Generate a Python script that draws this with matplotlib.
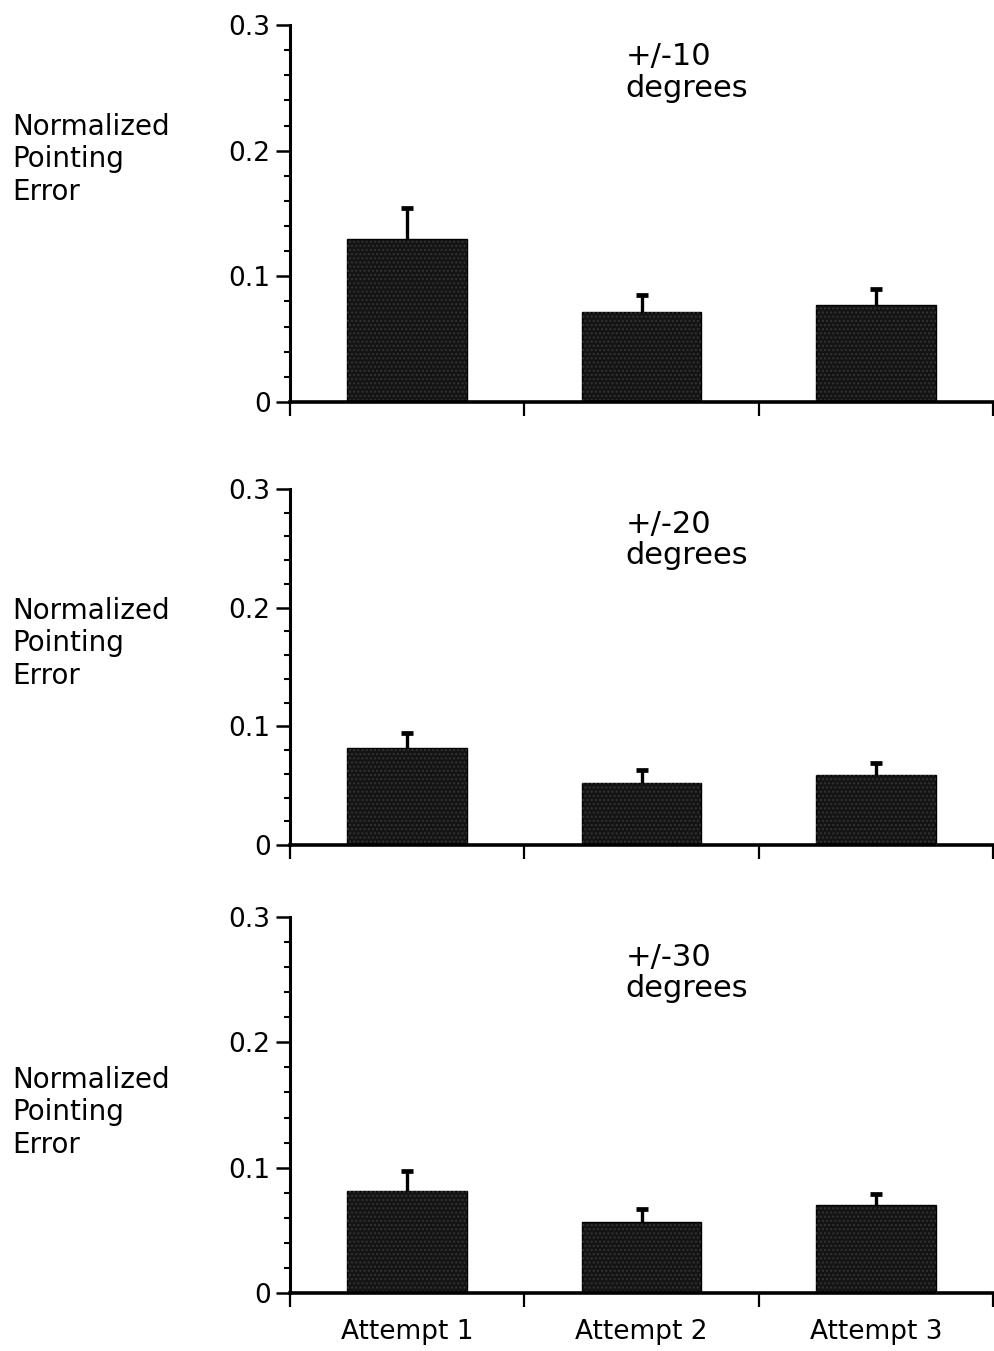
import matplotlib
matplotlib.use("Agg")
import matplotlib.pyplot as plt
import numpy as np

categories = ["Attempt 1", "Attempt 2", "Attempt 3"]
panel_titles = ["+/-10\ndegrees", "+/-20\ndegrees", "+/-30\ndegrees"]
means_10 = [0.130, 0.072, 0.077]
errs_10 = [0.024, 0.013, 0.013]
means_20 = [0.082, 0.052, 0.059]
errs_20 = [0.012, 0.011, 0.010]
means_30 = [0.081, 0.057, 0.070]
errs_30 = [0.016, 0.010, 0.009]
y_ticks = [0, 0.1, 0.2, 0.3]
y_ticklabels = ["0", "0.1", "0.2", "0.3"]
ylabel = "Normalized\nPointing\nError"

plt.rcParams['font.family'] = ['DejaVu Sans']

W, H = 995, 1351
fig = plt.figure(figsize=(W / 100, H / 100), dpi=100)

# (bottom px, top px)
panel_px = [(402, 25), (845, 489), (1293, 917)]
label_top_px = [113, 597, 1066]
title_frac = [0.045, 0.058, 0.068]
left_px, right_px = 290, 993

data = [(means_10, errs_10), (means_20, errs_20), (means_30, errs_30)]
x = np.arange(len(categories))

for i, ((m, e), (bpx, tpx)) in enumerate(zip(data, panel_px)):
    ax = fig.add_axes([left_px / W, 1 - bpx / H, (right_px - left_px) / W, (bpx - tpx) / H])
    ax.bar(x, m, width=0.51, color='#141414', edgecolor='black', linewidth=1.0, zorder=2)
    ax.bar(x, m, width=0.51, fill=False, hatch='....', edgecolor='#333333', linewidth=0, zorder=2.5)
    _, caps, _ = ax.errorbar(x, m, yerr=[np.zeros(len(e)), e], fmt='none', ecolor='black',
                             elinewidth=2.4, capsize=4, capthick=3.4, zorder=3)
    caps[0].set_visible(False)
    ax.set_xlim(-0.5, 2.5)
    ax.set_ylim(0, 0.3)
    for s in ['top', 'right']:
        ax.spines[s].set_visible(False)
    ax.spines['left'].set_linewidth(2.2)
    ax.spines['bottom'].set_linewidth(2.6)
    ax.set_yticks(y_ticks)
    ax.set_yticklabels(y_ticklabels, fontsize=19)
    ax.set_yticks(np.arange(0, 0.3001, 0.02), minor=True)
    ax.tick_params(axis='y', which='major', direction='out', length=10, width=1.8, pad=4)
    ax.tick_params(axis='y', which='minor', direction='out', length=4.5, width=1.5)
    ax.set_xticks([-0.5, 0.5, 1.5, 2.5])
    ax.set_xticklabels([])
    ax.tick_params(axis='x', which='major', direction='out', length=10, width=1.6)
    ax.set_xticks(x, minor=True)
    if i == 2:
        ax.set_xticklabels(categories, minor=True, fontsize=19)
    else:
        ax.set_xticklabels([], minor=True)
    ax.tick_params(axis='x', which='minor', length=0, pad=19)
    ax.text(0.477, 1 - title_frac[i], panel_titles[i], transform=ax.transAxes,
            ha='left', va='top', fontsize=22, linespacing=1.12)
    fig.text(12 / W, 1 - label_top_px[i] / H, ylabel, ha='left', va='top',
             fontsize=20, linespacing=1.2)

fig.savefig("out.png", dpi=100)
